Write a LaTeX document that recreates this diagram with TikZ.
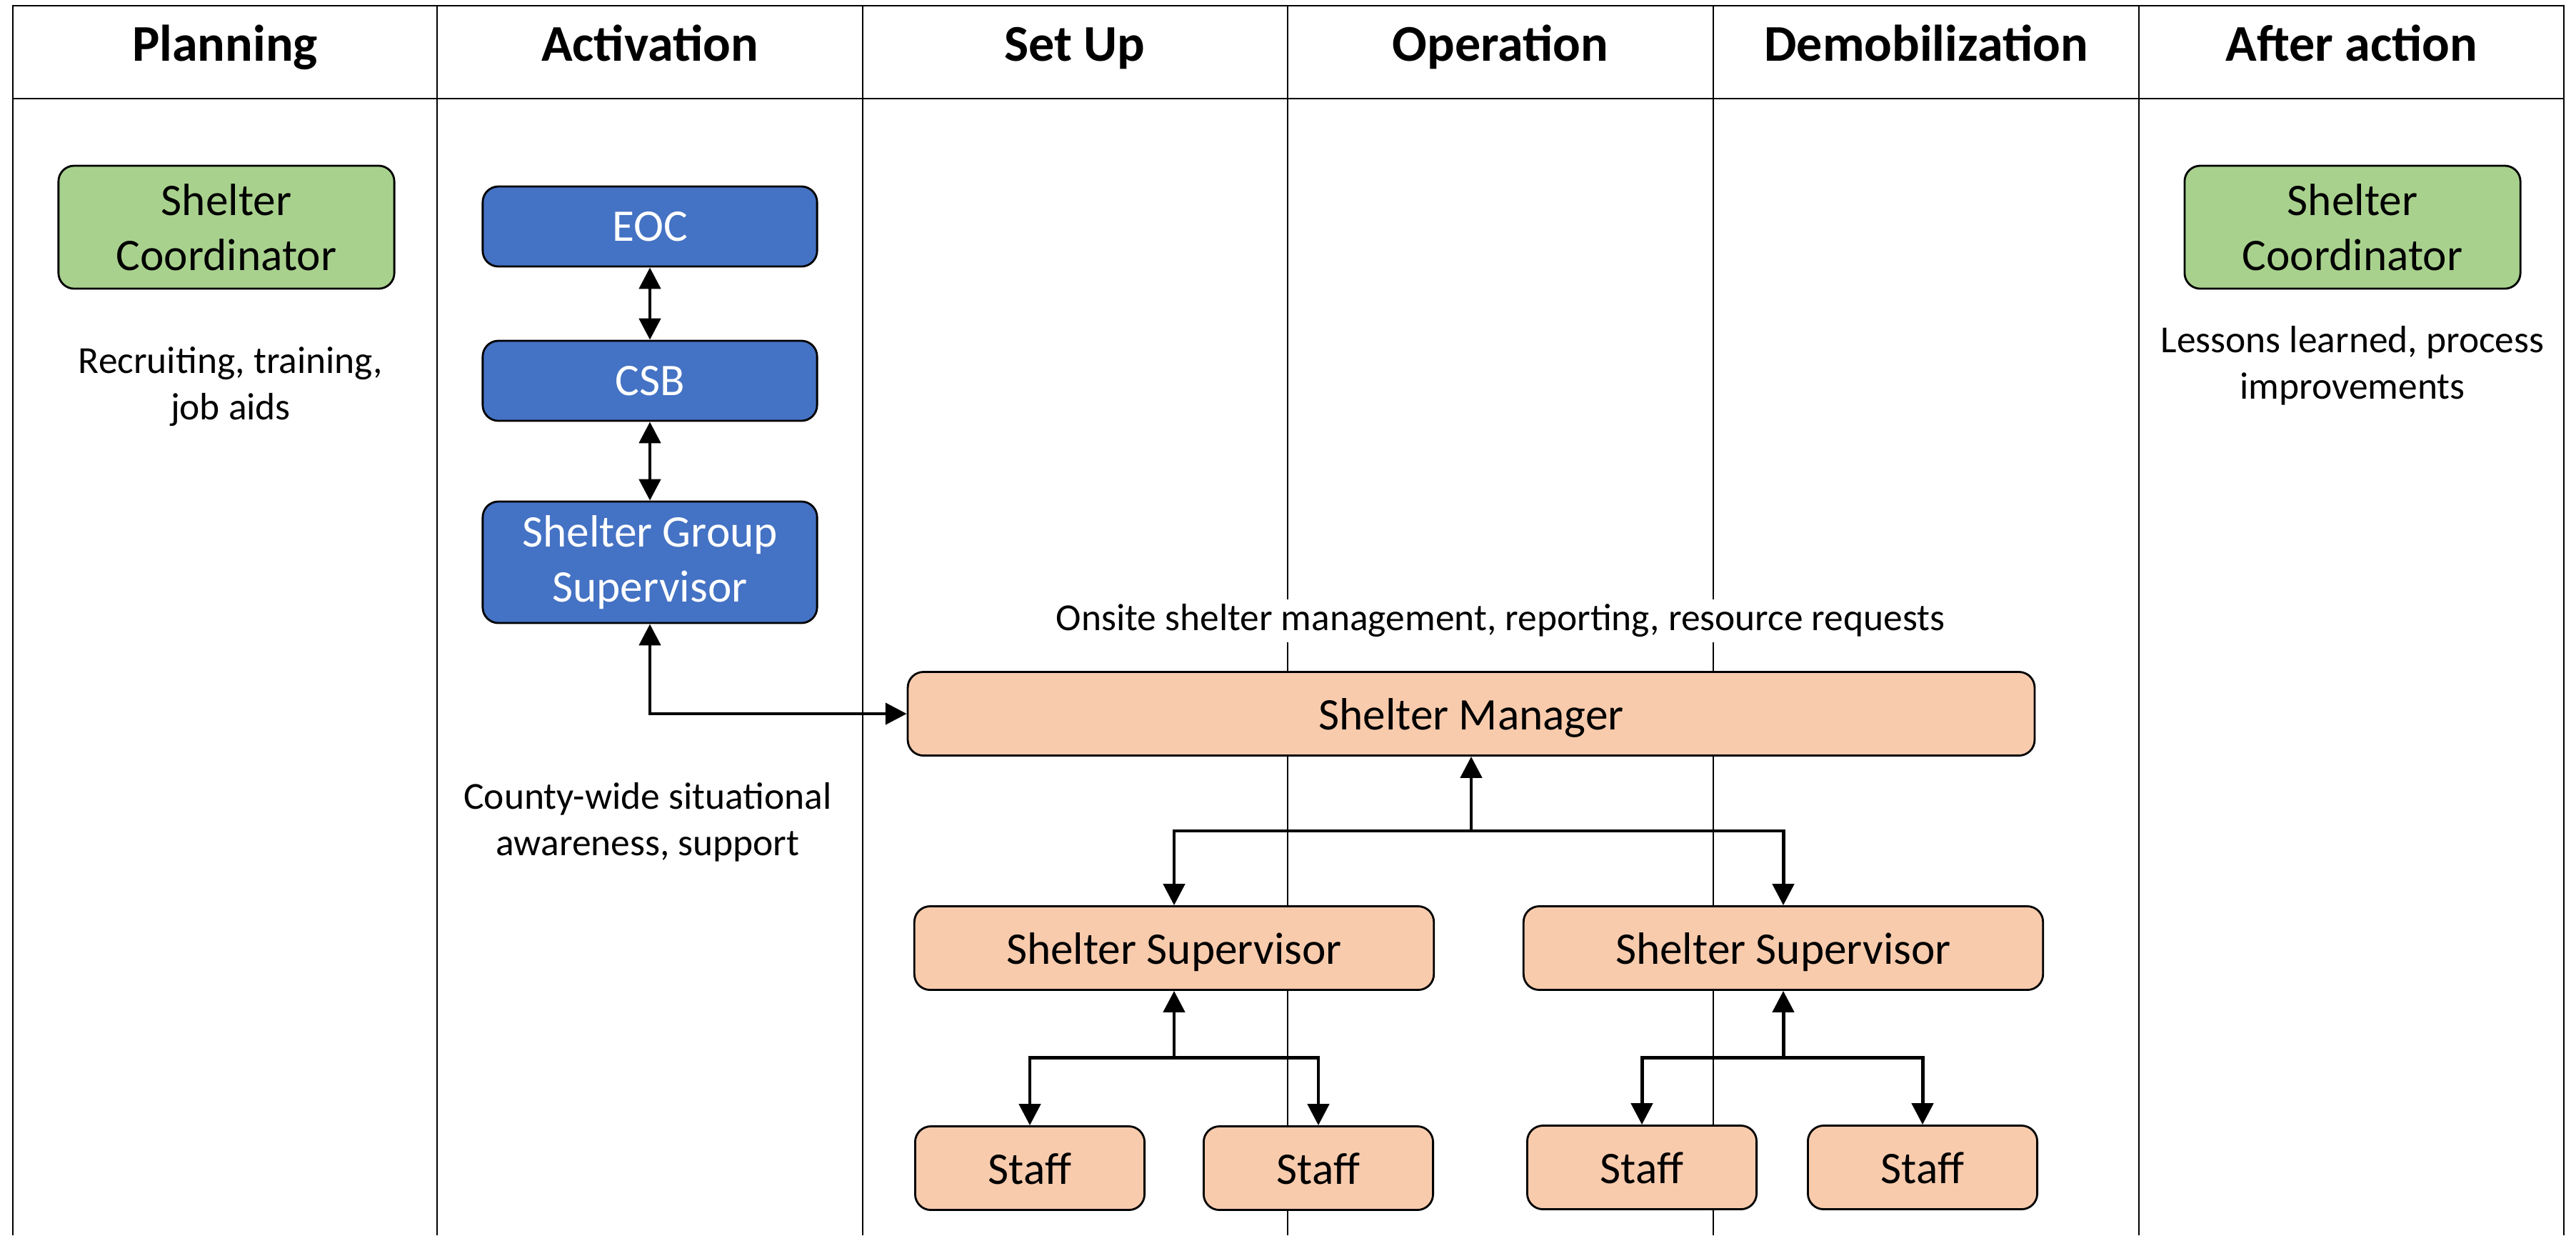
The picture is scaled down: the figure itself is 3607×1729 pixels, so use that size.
\documentclass[tikz,border=0pt]{standalone}
\usepackage{fontspec}
\setmainfont{Carlito}
\usetikzlibrary{arrows.meta}
\definecolor{coordgreen}{HTML}{A9D18E}
\definecolor{eocblue}{HTML}{4472C4}
\definecolor{sitepeach}{HTML}{F8CBAD}

\begin{document}
\begin{tikzpicture}[x=0.01cm,y=-0.01cm,>={Triangle[width=8.5pt,length=8.5pt]},
    lane/.style={line width=0.8pt},
    head node/.style={anchor=base,font=\fontsize{20.5}{24}\selectfont\bfseries},
    box node/.style={draw,rounded corners=0.22cm,line width=0.8pt,inner sep=0pt,align=center,font=\fontsize{18}{22}\selectfont},
    green node/.style={box node,fill=coordgreen,minimum width=4.7cm,minimum height=1.72cm},
    blue node/.style={box node,fill=eocblue,text=white,minimum width=4.68cm,minimum height=1.12cm},
    peach node/.style={box node,fill=sitepeach,minimum height=1.17cm,text height=16pt,text depth=3.4pt},
    note/.style={align=center,font=\fontsize{15.2}{18.5}\selectfont},
    link/.style={line width=1.4pt}]

            \useasboundingbox (0,0) rectangle (3607,1729);

            % swim lanes
            \draw[lane] (18,1729) -- (18,8) -- (3590,8) -- (3590,1729);
            \draw[lane] (18,138) -- (3590,138);
            \foreach \x in {612,1208,1803,2399,2995}
                \draw[lane] (\x,8) -- (\x,1729);

            \foreach \x/\t/\n in {315/Planning/plan,910/Activation/act,1505/Set Up/setup,2101/Operation/oper,2697/Demobilization/demob,3293/After action/after}
                \node[head node] (\n) at (\x,85) {\t};

            % planning and after action
            \node[green node] (coord1) at (317,318) {Shelter\\Coordinator};
            \node[note] (train) at (323,541) {Recruiting, training,\\job aids};
            \node[green node] (coord2) at (3294,318) {Shelter\\Coordinator};
            \node[note] (lessons) at (3294,512) {Lessons learned, process\\improvements};

            % activation
            \node[blue node] (eoc) at (910,317) {EOC};
            \node[blue node] (csb) at (910,533) {CSB};
            \node[blue node,minimum height=1.7cm] (sgs) at (910,787) {Shelter Group\\Supervisor};
            \node[note] (county) at (907,1151) {County-wide situational\\awareness, support};

            % shelter
            \node[note,fill=white,inner sep=2pt] (onsite) at (2101,869) {Onsite shelter management, reporting, resource requests};
            \node[peach node,minimum width=15.77cm] (sm) at (2060,999) {Shelter Manager};
            \node[peach node,minimum width=7.27cm] (ss1) at (1644,1327) {Shelter Supervisor};
            \node[peach node,minimum width=7.27cm] (ss2) at (2497,1327) {Shelter Supervisor};
            \node[peach node,minimum width=3.21cm] (staff1) at (1442,1635) {Staff};
            \node[peach node,minimum width=3.21cm] (staff2) at (1846,1635) {Staff};
            \node[peach node,minimum width=3.21cm] (staff3) at (2299,1634) {Staff};
            \node[peach node,minimum width=3.21cm] (staff4) at (2692,1634) {Staff};

            \coordinate (fork1) at (2060,1163);
            \coordinate (fork2) at (1644,1480);
            \coordinate (fork3) at (2497,1480);

            \draw[link,<->] (eoc) -- (csb);
            \draw[link,<->] (csb) -- (sgs);
            \draw[link,<->] (sgs.south) |- (sm.west);
            \draw[link,->] (fork1) -- (sm.south);
            \draw[link,->] (fork1) -| (ss1.north);
            \draw[link,->] (fork1) -| (ss2.north);
            \draw[link,->] (fork2) -- (ss1.south);
            \draw[link,->] (fork2) -| (staff1.north);
            \draw[link,->] (fork2) -| (staff2.north);
            \draw[link,->] (fork3) -- (ss2.south);
            \draw[link,->] (fork3) -| (staff3.north);
            \draw[link,->] (fork3) -| (staff4.north);

            ;
        \end{tikzpicture}
\end{document}
